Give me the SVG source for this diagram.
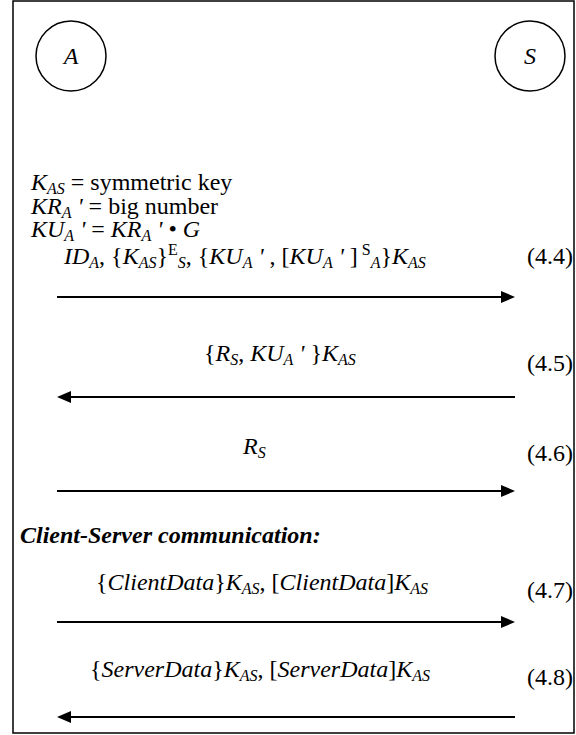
<svg xmlns="http://www.w3.org/2000/svg" width="576" height="735" viewBox="0 0 576 735">
<rect x="13" y="1" width="561" height="732" fill="#fff" stroke="#000" stroke-width="1.5"/>
<g id="nodeA">
<circle cx="71" cy="56" r="35" fill="none" stroke="#000" stroke-width="1.5"/>
<text font-family="Liberation Serif" font-style="italic" font-size="24" x="71" y="64" text-anchor="middle">A</text>
</g>
<g id="nodeS">
<circle cx="530" cy="56" r="35" fill="none" stroke="#000" stroke-width="1.5"/>
<text font-family="Liberation Serif" font-style="italic" font-size="24" x="530" y="64" text-anchor="middle">S</text>
</g>
<text font-family="Liberation Serif" font-size="24" x="31" y="190"><tspan font-style="italic">K</tspan><tspan font-style="italic" font-size="16" dy="4">AS</tspan><tspan dy="-4"> = symmetric key</tspan></text>
<text font-family="Liberation Serif" font-size="24" x="31" y="214"><tspan font-style="italic">KR</tspan><tspan font-style="italic" font-size="16" dy="4">A</tspan><tspan font-style="italic" dy="-4"> ' </tspan><tspan>= big number</tspan></text>
<text font-family="Liberation Serif" font-size="24" x="31" y="237"><tspan font-style="italic">KU</tspan><tspan font-style="italic" font-size="16" dy="4">A</tspan><tspan font-style="italic" dy="-4"> ' </tspan><tspan>= </tspan><tspan font-style="italic">KR</tspan><tspan font-style="italic" font-size="16" dy="4">A</tspan><tspan font-style="italic" dy="-4"> ' </tspan><tspan> &#8226; </tspan><tspan font-style="italic">G</tspan></text>
<text font-family="Liberation Serif" font-size="24" x="64" y="264"><tspan font-style="italic">ID</tspan><tspan font-style="italic" font-size="16" dy="4">A</tspan><tspan dy="-4">, {</tspan><tspan font-style="italic">K</tspan><tspan font-style="italic" font-size="16" dy="4">AS</tspan><tspan dy="-4">}</tspan><tspan font-size="16" dy="-9">E</tspan><tspan font-style="italic" font-size="16" dy="13">S</tspan><tspan dy="-4">, {</tspan><tspan font-style="italic">KU</tspan><tspan font-style="italic" font-size="16" dy="4">A</tspan><tspan font-style="italic" dy="-4"> ' </tspan><tspan>, [</tspan><tspan font-style="italic">KU</tspan><tspan font-style="italic" font-size="16" dy="4">A</tspan><tspan font-style="italic" dy="-4"> ' </tspan><tspan>]</tspan><tspan font-size="16" dy="-9"> S</tspan><tspan font-style="italic" font-size="16" dy="13">A</tspan><tspan dy="-4">}</tspan><tspan font-style="italic">K</tspan><tspan font-style="italic" font-size="16" dy="4">AS</tspan></text>
<text font-family="Liberation Serif" font-size="24" x="527" y="264">(4.4)</text>
<text font-family="Liberation Serif" font-size="24" x="204" y="361">{<tspan font-style="italic">R</tspan><tspan font-style="italic" font-size="16" dy="4">S</tspan><tspan dy="-4">, </tspan><tspan font-style="italic">KU</tspan><tspan font-style="italic" font-size="16" dy="4">A</tspan><tspan font-style="italic" dy="-4"> ' </tspan><tspan>}</tspan><tspan font-style="italic">K</tspan><tspan font-style="italic" font-size="16" dy="4">AS</tspan></text>
<text font-family="Liberation Serif" font-size="24" x="527" y="371">(4.5)</text>
<text font-family="Liberation Serif" font-size="24" x="243" y="454"><tspan font-style="italic">R</tspan><tspan font-style="italic" font-size="16" dy="4">S</tspan></text>
<text font-family="Liberation Serif" font-size="24" x="527" y="461">(4.6)</text>
<text font-family="Liberation Serif" font-weight="bold" font-style="italic" font-size="24" x="20" y="543">Client-Server communication:</text>
<text font-family="Liberation Serif" font-size="24" x="96" y="590">{<tspan font-style="italic">ClientData</tspan><tspan>}</tspan><tspan font-style="italic">K</tspan><tspan font-style="italic" font-size="16" dy="4">AS</tspan><tspan dy="-4">, [</tspan><tspan font-style="italic">ClientData</tspan><tspan>]</tspan><tspan font-style="italic">K</tspan><tspan font-style="italic" font-size="16" dy="4">AS</tspan></text>
<text font-family="Liberation Serif" font-size="24" x="527" y="598">(4.7)</text>
<text font-family="Liberation Serif" font-size="24" x="90" y="677">{<tspan font-style="italic">ServerData</tspan><tspan>}</tspan><tspan font-style="italic">K</tspan><tspan font-style="italic" font-size="16" dy="4">AS</tspan><tspan dy="-4">, [</tspan><tspan font-style="italic">ServerData</tspan><tspan>]</tspan><tspan font-style="italic">K</tspan><tspan font-style="italic" font-size="16" dy="4">AS</tspan></text>
<text font-family="Liberation Serif" font-size="24" x="527" y="685">(4.8)</text>
<g id="connectors" stroke="#000" stroke-width="2" fill="#000">
<line x1="57" y1="297" x2="503" y2="297"/>
<polygon points="501,291 515,297 501,303" stroke="none"/>
<line x1="515" y1="397" x2="69" y2="397"/>
<polygon points="71,391 57,397 71,403" stroke="none"/>
<line x1="57" y1="491" x2="503" y2="491"/>
<polygon points="501,485 515,491 501,497" stroke="none"/>
<line x1="57" y1="622" x2="503" y2="622"/>
<polygon points="501,616 515,622 501,628" stroke="none"/>
<line x1="515" y1="717" x2="69" y2="717"/>
<polygon points="71,711 57,717 71,723" stroke="none"/>
</g>
</svg>
